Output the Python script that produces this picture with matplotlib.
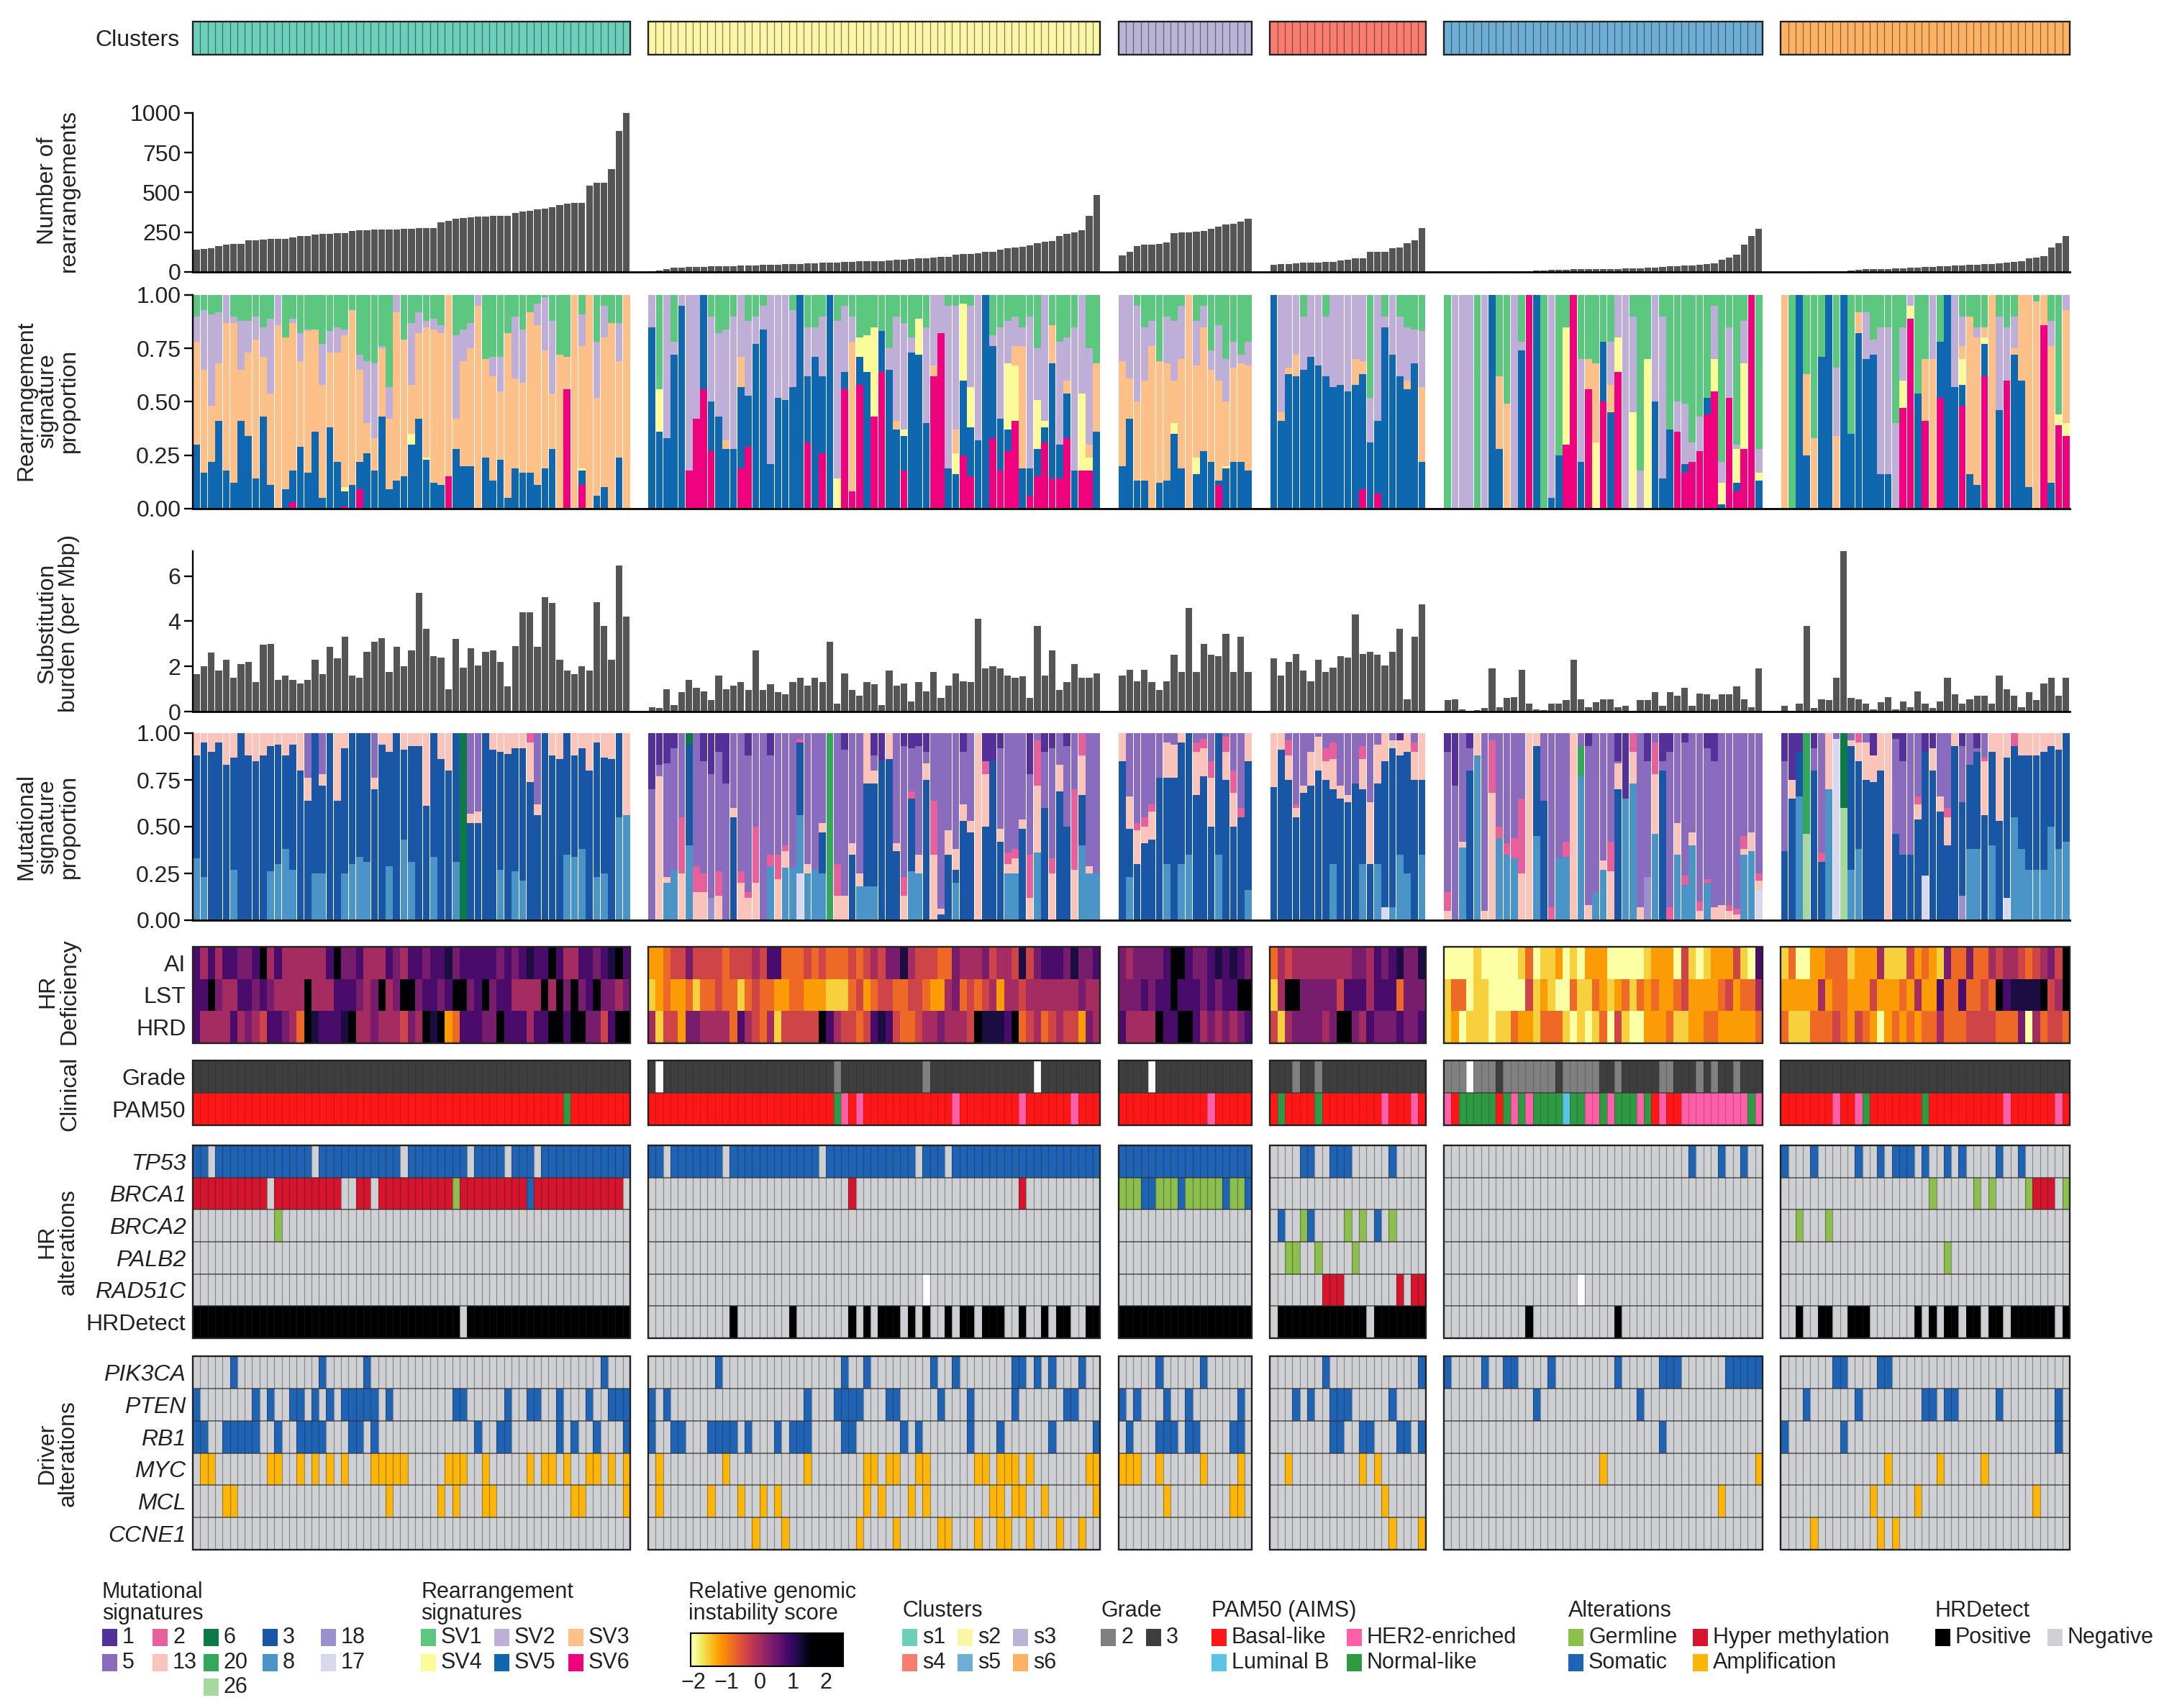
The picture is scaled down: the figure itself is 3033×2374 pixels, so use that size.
import numpy as np
import matplotlib
matplotlib.use('Agg')
import matplotlib.pyplot as plt
from matplotlib.colors import ListedColormap, Normalize
from matplotlib.patches import Rectangle

plt.rcParams['font.family'] = ['Liberation Sans', 'DejaVu Sans']
W, H = 3033, 2374
FS = 23

cluster_names = ['s1', 's2', 's3', 's4', 's5', 's6']
cluster_sizes = [59, 61, 18, 21, 43, 39]
cluster_colors = ['#6CCFBC', '#FBF6A6', '#B9B3D6', '#F97C6E', '#6DAED5', '#FDB263']

def fit(seq, n):
    seq = list(seq)
    return seq[:n] + [seq[-1]] * max(0, n - len(seq))

rearr_s1 = [140,143,150,165,170,175,178,198,200,203,207,208,210,215,225,228,235,238,240,243,243,258,262,263,265,267,268,268,270,272,274,275,278,310,322,335,340,345,350,350,352,352,355,370,380,385,395,400,405,420,430,435,435,545,560,560,648,885,1000]
rearr_s2 = [3,8,20,25,27,30,31,33,35,36,37,38,39,40,41,43,45,47,49,50,52,54,56,58,60,61,63,65,66,68,69,70,72,76,78,80,84,88,92,95,97,110,112,115,118,125,128,140,150,155,157,168,183,190,196,228,239,250,264,352,484]
rearr_s3 = [105,125,165,170,172,175,185,245,250,250,255,260,270,285,300,305,315,335]
rearr_s4 = [45,50,52,55,58,60,60,62,65,72,78,85,88,125,125,128,150,155,180,200,275]
rearr_s5 = [1,1,1,2,2,2,3,3,3,4,5,6,8,10,12,14,14,16,16,18,18,20,20,20,22,22,24,25,28,30,34,36,40,42,45,50,55,75,90,110,170,228,270]
rearr_s6 = [1,2,2,2,3,3,3,4,5,8,15,16,18,18,20,22,24,26,28,30,32,34,36,40,42,44,46,48,50,55,58,62,68,85,90,100,155,180,228]
rearrangements = [rearr_s1, rearr_s2, rearr_s3, rearr_s4, rearr_s5, rearr_s6]

subs_s1 = [1.65,2.0,2.6,1.8,2.3,1.5,2.1,2.2,1.3,2.95,3.0,1.4,1.6,1.4,1.25,1.4,2.3,1.65,2.85,2.35,3.3,1.6,1.5,2.65,3.1,3.25,1.75,2.85,2.0,2.7,5.25,3.65,2.45,2.4,1.0,3.2,1.95,2.8,2.05,2.65,2.7,2.2,1.1,2.9,4.4,4.4,2.85,5.05,4.8,2.3,1.8,1.65,2.0,1.8,4.85,3.8,2.3,6.45,4.2]
subs_s2 = [0.2,0.15,1.0,0.3,0.85,1.4,1.05,0.9,0.5,1.6,1.0,1.15,1.3,0.95,2.7,0.95,1.2,0.85,0.75,1.3,1.5,1.15,1.5,1.3,3.1,0.35,1.7,0.95,0.7,1.3,1.2,0.3,1.8,1.15,1.25,0.45,1.3,0.9,1.75,0.6,1.15,1.7,1.35,1.3,4.1,1.9,2.0,1.9,1.6,1.5,1.55,0.6,3.8,1.6,2.7,0.95,1.3,2.1,1.5,1.5,1.7]
subs_s3 = [1.6,1.85,1.35,1.85,1.3,0.95,1.35,2.5,1.75,4.6,1.75,3.0,2.5,2.45,3.45,1.75,3.3,1.75]
subs_s4 = [2.35,1.6,2.2,2.55,1.8,1.35,2.3,1.75,1.95,2.45,2.4,4.3,2.55,2.65,2.5,2.05,2.65,3.65,0.55,3.3,4.75]
subs_s5 = [0.5,0.55,0.1,0.02,0.05,0.15,1.9,0.2,0.6,0.65,1.85,0.35,0.1,0.05,0.35,0.35,0.5,2.3,0.55,0.2,0.4,0.55,0.55,0.2,0.25,0.02,0.5,0.5,0.85,0.25,0.85,0.7,1.05,0.25,0.8,0.75,0.55,0.75,0.75,1.1,0.55,0.2,1.9]
subs_s6 = [0.25,0.02,0.35,3.8,0.15,0.55,0.5,1.5,7.1,0.6,0.55,0.35,0.1,0.4,0.65,0.1,0.45,0.2,0.9,0.35,0.15,0.45,1.5,0.75,0.35,0.55,0.7,0.7,0.35,1.6,1.0,0.7,0.2,0.85,0.5,1.25,1.5,0.7,1.5]
substitutions = [subs_s1, subs_s2, subs_s3, subs_s4, subs_s5, subs_s6]

# cumulative tops (percent) : SV6, SV5, SV4, SV3, SV2 ; SV1 fills up to 100
sv_s1 = [(0,30,30,78,90),(0,17,17,65,93),(0,22,22,48,91),(0,41,41,68,92),(0,18,18,87,100),(0,12,12,87,90),(0,41,41,65,88),(0,34,34,73,88),(0,14,14,79,90),(0,43,43,71,85),(0,11,11,54,89),(0,0,0,86,100),(0,9,9,80,80),(3,18,18,87,89),(0,29,29,69,82),(0,17,17,83,84),(0,36,36,84,84),(0,5,5,58,77),(0,38,38,73,83),(0,22,22,73,85),(1,8,10,81,84),(0,11,11,93,93),(9,22,22,65,72),(0,26,26,40,69),(0,18,18,33,68),(0,43,43,75,76),(0,9,9,42,57),(0,13,13,92,100),(0,15,15,79,79),(0,30,35,58,87),(0,42,42,82,92),(0,23,24,85,88),(0,12,12,84,89),(0,11,11,82,86),(15,15,15,100,100),(0,28,28,42,81),(0,20,20,69,84),(0,20,20,75,87),(0,0,0,95,100),(0,24,24,70,70),(0,13,13,62,71),(0,23,23,55,71),(0,5,5,82,82),(0,19,19,61,90),(0,17,17,59,84),(0,17,17,92,92),(0,11,11,86,96),(0,19,19,74,99),(0,28,28,54,88),(0,0,0,72,72),(56,56,56,71,71),(0,0,0,100,100),(11,18,19,76,91),(0,0,0,100,100),(0,6,6,52,78),(0,10,10,80,95),(0,0,0,87,87),(0,24,24,69,87),(0,0,0,100,100)]
sv_s2 = [(0,85,85,85,100),(0,36,56,56,56),(0,33,33,33,100),(0,72,72,72,78),(0,95,95,95,100),(18,18,18,18,100),(42,42,42,42,100),(56,100,100,100,100),(27,50,50,50,90),(0,43,43,43,82),(0,28,28,32,84),(0,28,28,28,90),(19,57,57,71,100),(29,53,53,53,88),(0,77,77,77,90),(0,84,84,84,95),(0,21,21,21,100),(0,52,52,52,100),(0,51,51,51,100),(0,57,57,57,93),(0,100,100,100,100),(31,62,62,62,85),(0,71,71,71,85),(26,62,62,62,90),(0,100,100,100,100),(0,0,14,14,88),(56,64,64,64,95),(8,8,8,78,90),(58,71,80,80,80),(0,64,81,81,81),(43,43,85,85,85),(64,83,83,83,83),(0,65,65,65,75),(0,37,37,41,90),(18,34,37,37,87),(0,73,73,73,80),(0,72,89,89,89),(0,40,40,40,85),(62,62,62,67,100),(82,82,82,82,100),(0,19,19,19,95),(0,16,26,37,95),(25,60,96,96,96),(15,38,57,57,95),(0,32,32,32,100),(0,100,100,100,100),(33,76,76,76,81),(18,42,42,42,85),(27,37,68,68,88),(41,41,67,76,90),(0,19,19,76,85),(6,19,19,19,90),(15,28,51,51,75),(31,38,41,41,100),(14,68,68,86,86),(14,30,30,30,78),(33,54,54,60,80),(0,18,18,18,85),(18,18,54,54,100),(18,18,24,30,75),(0,36,36,68,68)]
sv_s3 = [(0,20,20,69,100),(0,42,42,61,100),(0,13,13,50,95),(0,13,13,60,85),(0,0,0,76,88),(0,12,12,69,69),(0,13,13,68,90),(0,35,40,60,88),(0,19,19,70,95),(0,0,0,100,100),(0,16,24,67,88),(0,27,27,85,95),(0,22,22,65,74),(11,13,13,60,86),(0,19,20,50,70),(0,22,22,66,78),(0,22,22,68,72),(0,18,18,67,78)]
sv_s4 = [(0,100,100,100,100),(0,41,41,45,100),(0,63,63,66,100),(0,62,62,72,100),(0,65,65,65,90),(0,71,71,71,100),(0,67,67,67,100),(0,62,62,62,90),(0,57,57,57,100),(0,58,58,58,100),(0,55,55,55,100),(0,58,58,70,100),(9,63,63,69,100),(0,31,31,31,52),(7,41,41,41,100),(0,85,85,85,90),(0,72,72,72,100),(0,62,62,62,90),(0,56,56,60,85),(0,68,68,68,84),(0,22,22,57,83)]
sv_s5 = [(0,0,0,0,0),(0,0,0,0,100),(0,0,0,0,100),(0,0,0,0,100),(0,0,0,0,0),(0,0,0,0,100),(0,100,100,100,100),(0,28,28,62,62),(0,0,0,49,49),(0,0,0,0,100),(0,74,74,74,78),(100,100,100,100,100),(0,100,100,100,100),(0,0,0,0,0),(0,5,5,5,100),(0,25,25,25,25),(30,30,85,85,85),(100,100,100,100,100),(0,22,22,22,70),(56,56,56,70,70),(0,0,31,68,68),(50,78,78,78,78),(0,45,45,58,78),(64,64,80,80,100),(0,0,0,0,100),(0,0,45,45,90),(0,0,0,0,18),(0,0,70,70,70),(0,50,50,50,100),(0,14,14,14,90),(0,37,37,37,37),(36,36,36,36,50),(17,21,21,21,49),(22,22,22,22,31),(27,27,27,27,43),(44,52,52,52,52),(55,55,70,70,95),(0,2,12,12,22),(52,52,52,52,85),(8,12,28,28,30),(28,28,68,68,88),(100,100,100,100,100),(0,13,17,17,28)]
sv_s6 = [(0,0,0,100,100),(0,0,0,0,0),(0,100,100,100,100),(0,25,25,63,63),(0,0,0,33,33),(0,71,71,71,71),(0,100,100,100,100),(0,0,0,34,66),(0,100,100,100,100),(0,35,35,35,35),(0,82,82,92,92),(0,70,70,70,92),(0,72,72,72,79),(0,16,16,16,85),(0,16,16,16,85),(0,0,0,0,40),(47,47,60,60,85),(89,89,95,95,100),(0,54,54,54,54),(41,41,41,70,70),(0,0,0,70,100),(52,78,78,78,78),(0,100,100,100,100),(0,57,57,57,100),(48,58,70,76,90),(0,16,16,90,90),(0,11,11,80,85),(62,77,80,85,85),(0,0,0,100,100),(0,46,46,46,90),(60,60,60,60,85),(0,72,72,75,90),(0,60,60,100,100),(0,10,10,100,100),(0,0,0,97,97),(86,86,86,100,100),(0,12,12,76,88),(39,39,44,44,44),(34,34,40,93,100)]
sv_clusters = [sv_s1, sv_s2, sv_s3, sv_s4, sv_s5, sv_s6]
sv_labels = ['SV6', 'SV5', 'SV4', 'SV3', 'SV2', 'SV1']
sv_colors = ['#F0027F', '#0F67B0', '#FBFB99', '#FDC088', '#BFAED8', '#5CC77F']

# cumulative tops (percent) : sig 8, 3, 13, 2, 5 ; sig 1 fills up to 100
mut8_s1 = [33,23,0,0,0,27,0,0,0,0,26,30,38,27,0,0,25,25,0,0,25,30,34,31,0,0,29,0,43,31,0,0,34,0,0,31,0,0,0,0,0,27,0,26,21,0,0,0,0,0,35,34,38,0,23,25,0,55,56]
mut3_s1 = [88,95,90,95,83,87,100,88,85,88,93,94,88,94,80,64,100,72,100,64,92,100,100,100,70,94,90,100,91,93,93,61,100,86,80,100,100,52,52,100,91,90,89,92,92,74,56,100,88,86,100,88,92,80,95,87,86,100,56]
mut13_s1_over = {15:(76,76,100),17:(78,78,100),24:(76,76,100),37:(57,57,100),38:(58,58,100),45:(95,100,100),46:(62,62,100)}
mut_s2 = [(0,0,0,0,70),(0,0,77,77,83),(20,20,23,23,84),(27,27,27,27,92),(0,0,25,55,100),(40,94,94,94,94),(0,0,15,29,100),(0,0,15,25,85),(0,0,0,0,78),(0,0,13,26,90),(0,0,0,0,73),(0,55,60,60,100),(0,0,20,26,100),(0,0,12,15,88),(0,0,20,50,100),(0,0,0,0,100),(29,29,29,35,88),(0,0,22,35,100),(28,28,37,40,100),(28,28,28,28,100),(56,95,95,97,100),(25,25,30,30,100),(27,27,27,27,100),(25,47,52,52,100),(0,0,0,0,100),(0,0,13,30,100),(0,0,13,13,91),(0,35,41,41,100),(18,18,25,25,100),(18,73,100,100,100),(18,73,80,80,88),(0,85,85,85,85),(0,86,100,100,100),(0,37,41,41,100),(0,0,13,23,93),(26,65,65,69,92),(25,25,35,35,93),(0,75,84,84,90),(0,0,35,64,100),(0,3,6,6,100),(0,35,48,48,100),(20,27,38,38,100),(0,53,62,62,90),(0,47,53,53,100),(0,0,100,100,100),(0,50,78,85,85),(0,85,85,85,85),(0,42,49,49,92),(25,25,30,36,100),(25,25,33,38,100),(0,49,54,54,100),(0,0,12,35,78),(36,36,72,96,100),(0,60,60,60,90),(0,0,25,33,92),(0,69,83,83,100),(0,50,50,50,93),(0,0,27,70,100),(40,67,88,100,100),(25,25,29,29,100),(25,25,25,25,100)]
mut_s3 = [(0,85,100,100,100),(23,49,66,66,100),(0,30,48,52,100),(0,41,50,55,100),(0,43,58,62,100),(0,76,76,76,100),(30,76,95,95,100),(0,76,94,94,100),(30,95,100,100,100),(35,100,100,100,100),(0,67,90,95,100),(0,77,92,97,100),(0,50,76,85,100),(35,100,100,100,100),(0,75,90,98,100),(0,50,68,80,100),(0,55,55,60,100),(16,85,100,100,100)]
mut_s4 = [(0,71,100,100,100),(0,91,100,100,100),(0,75,88,96,100),(0,55,60,62,100),(0,68,72,72,100),(0,72,90,90,100),(0,80,98,98,100),(0,75,85,92,100),(30,70,86,95,100),(0,65,72,72,100),(0,63,67,67,100),(0,73,73,73,100),(30,70,86,93,100),(0,30,63,63,100),(30,73,94,94,100),(0,85,100,100,100),(7,92,96,96,100),(35,88,96,96,96),(25,90,100,100,100),(0,75,90,95,100),(35,75,100,100,100)]
mut_s5 = [(0,0,5,15,90),(0,0,0,0,72),(39,39,42,42,100),(0,80,80,80,92),(88,88,100,100,100),(0,0,5,5,100),(0,0,68,96,100),(44,44,44,50,100),(35,35,35,41,100),(33,33,33,44,100),(0,0,25,65,100),(0,0,100,100,100),(45,93,100,100,100),(0,64,64,64,100),(0,0,0,7,100),(33,33,33,33,100),(34,34,34,42,100),(0,0,100,100,100),(77,77,77,77,100),(0,0,8,8,93),(15,15,15,15,100),(27,27,32,32,100),(0,0,26,42,100),(0,70,84,84,85),(65,65,65,65,65),(73,73,90,100,100),(0,0,7,7,100),(0,0,0,0,85),(46,46,78,95,100),(0,80,80,80,85),(0,0,0,7,90),(35,35,52,52,100),(19,19,19,24,95),(40,40,47,47,100),(0,0,5,10,100),(20,20,20,22,92),(0,0,7,7,85),(0,0,8,8,100),(0,0,5,8,100),(0,0,3,6,100),(35,35,38,45,100),(37,37,47,47,100),(0,0,21,25,100)]
mut_s6 = [(0,37,37,37,85),(0,65,75,75,75),(66,90,90,90,90),(0,0,0,0,0),(0,80,80,80,92),(0,31,31,36,100),(70,70,100,100,100),(0,0,0,0,100),(0,0,0,0,100),(27,93,96,96,100),(38,85,95,100,100),(0,75,95,95,100),(0,74,88,88,88),(0,80,100,100,100),(0,0,100,100,100),(0,46,46,46,97),(0,35,35,35,85),(0,35,35,35,100),(0,54,62,66,100),(0,90,90,90,90),(0,80,92,92,92),(0,58,66,66,100),(0,40,55,60,100),(0,93,100,100,100),(0,63,63,63,93),(38,83,83,83,100),(38,90,90,90,92),(0,56,85,87,100),(40,90,100,100,100),(0,53,100,100,100),(0,87,100,100,100),(55,93,93,100,100),(38,88,100,100,100),(27,88,100,100,100),(27,88,100,100,100),(27,90,100,100,100),(50,93,100,100,100),(38,91,100,100,100),(42,100,100,100,100)]
mut_labels = ['8', '3', '13', '2', '5', '1']
mut_colors = ['#4A94C8', '#1A56A6', '#FBC4BB', '#E7609C', '#8A6CBE', '#54309A']
# rarer signatures: cluster, sample, signature, from, to
mut_rare = [(0,36,'6',0,100),(1,5,'6',94,100),(1,8,'18',0,12),(1,20,'17',0,25),(1,24,'20',0,100),(3,15,'17',0,7),(4,18,'20',77,93),(4,27,'18',0,23),(4,42,'17',0,16),(5,3,'26',0,46),(5,3,'20',46,100),(5,7,'17',0,97),(5,8,'26',0,60),(5,8,'6',60,100),(5,19,'17',0,24),(5,24,'18',0,13),(5,30,'17',0,12)]
rare_colors = {'6':'#0B7A45','20':'#33A75B','26':'#A5D99E','18':'#9C8FCF','17':'#D8D8F0'}

AI_s1 = [7,5,7,5,7,7,6,6,7,9,5,7,5,5,5,5,5,5,7,9,6,6,7,5,5,5,7,6,5,7,7,6,7,7,8,6,7,7,7,7,7,6,7,6,7,8,7,7,9,7,5,5,7,7,6,7,8,9,7]
LST_s1 = [7,7,9,6,5,5,7,7,6,7,6,5,5,5,5,9,5,5,5,7,7,7,6,5,6,9,5,6,9,9,6,7,7,6,7,9,9,6,7,9,6,7,7,5,5,5,5,9,5,9,6,9,6,7,9,6,6,5,6]
HRD_s1 = [7,5,5,5,5,7,5,6,5,4,7,7,6,5,3,9,8,7,7,7,8,9,5,5,6,5,5,5,4,6,5,9,8,9,2,3,7,7,7,6,6,9,7,7,7,5,7,7,9,9,7,9,9,6,6,4,7,9,9]
AI_s2 = [2,2,3,4,4,6,4,4,4,4,3,4,4,4,5,4,7,7,3,3,3,4,3,4,3,3,3,4,3,4,5,4,6,6,8,5,4,4,4,3,3,6,5,5,5,6,4,5,5,4,8,4,6,7,7,7,6,8,6,6,7]
LST_s2 = [1,2,3,2,2,3,1,3,3,4,3,3,1,3,4,3,3,2,2,3,3,2,2,2,1,1,1,3,4,2,3,4,4,3,3,4,4,3,2,2,5,6,3,4,3,4,5,2,5,5,4,5,5,5,5,5,5,5,6,5,5]
HRD_s2 = [5,1,4,4,2,6,6,5,5,5,5,3,7,5,4,3,5,1,4,4,4,4,4,9,7,5,4,4,3,4,7,8,7,4,3,3,4,5,5,6,5,5,5,4,9,8,8,8,7,9,3,4,5,3,4,5,4,4,2,6,5]
AI_s3 = [6,5,6,6,6,6,7,9,9,7,6,6,7,8,7,8,7,6]
LST_s3 = [6,6,6,7,6,7,7,9,7,7,7,6,7,6,7,7,9,9]
HRD_s3 = [7,5,5,5,5,9,7,7,9,9,7,5,6,5,6,5,6,7]
AI_s4 = [3,5,4,5,5,5,5,5,5,5,5,6,6,5,7,6,7,8,6,6,8]
LST_s4 = [1,5,9,9,6,6,6,6,6,4,7,7,7,5,7,7,7,3,6,6,6]
HRD_s4 = [4,1,5,6,6,6,6,5,6,9,9,6,5,7,6,6,6,7,6,6,7]
AI_s5 = [0,0,0,0,1,0,0,0,0,0,1,3,0,1,1,2,0,1,0,2,2,2,0,0,0,0,0,1,2,2,2,0,4,1,0,1,2,2,2,4,1,0,7]
LST_s5 = [1,3,3,0,1,1,0,0,0,0,0,4,1,2,1,0,0,3,1,1,3,2,1,2,3,1,3,2,3,2,2,3,4,2,2,2,2,3,4,2,3,3,5]
HRD_s5 = [1,2,0,1,1,1,0,1,1,3,2,2,1,3,3,3,1,0,1,0,1,3,0,4,1,0,0,2,2,2,3,1,1,2,2,3,3,2,2,2,2,2,3]
AI_s6 = [1,3,0,0,2,2,3,3,3,1,2,2,2,5,1,1,1,4,2,3,2,1,6,3,3,6,3,3,5,4,5,5,4,3,4,5,6,4,9]
LST_s6 = [2,2,2,2,2,5,2,3,3,2,2,2,4,2,2,2,3,2,5,2,2,7,3,3,7,3,3,4,3,9,7,8,8,8,8,9,4,5,9]
HRD_s6 = [3,1,1,1,3,3,3,4,3,2,4,3,2,0,2,3,2,3,2,3,3,5,3,3,3,4,4,4,4,3,3,3,6,0,5,3,4,4,3]
hr_rows = [[AI_s1,AI_s2,AI_s3,AI_s4,AI_s5,AI_s6],[LST_s1,LST_s2,LST_s3,LST_s4,LST_s5,LST_s6],[HRD_s1,HRD_s2,HRD_s3,HRD_s4,HRD_s5,HRD_s6]]
hr_labels = ['AI', 'LST', 'HRD']

# clinical: sample indices that differ from the cluster's main class
grade2 = [[],[25,37],[],[3,6],[0,1,2,4,5,6,8,9,10,11,12,13,14,16,17,18,19,20,23,29,30,34,36,39],[]]
gradeNA = [[],[1,52],[4],[],[3],[]]
pam_normal = [[50],[25],[],[1,6],[2,3,4,5,6,8,10,12,13,14,15,17,18,21,23,24,25,27,41],[11,19]]
pam_her2 = [[],[26,28,41,50,57],[12],[15,19],[0,9,11,19,20,22,26,29,32,33,34,35,36,37,38,39,40,42],[7,10,30,37]]
pam_lumB = [[],[],[],[],[16],[]]

# alterations: sample indices per cluster
tp53_neg = [[2,16,28,37,42,46],[2,10,23,36,40],[]]
tp53_som = [None,None,None,[4,5,8,9,10,16],[33,37,40],[0,4,10,13,15,16,17,19,22,24,29,32]]
brca1_clean = [[10,20,21,24,58],[],[],[],[],[]]
brca1_germ = [[35],[],[0,1,2,5,6,7,9,10,11,12,13,15,16],[],[],[20,26,28,33,38]]
brca1_som = [[45],[],[3,4,8,14,17],[],[],[]]
brca1_meth = [None,[27,50],[],[],[],[34,35,36]]
brca2_germ = [[11],[],[],[4,10,12,16],[],[2,6]]
brca2_som = [[],[],[],[1,5,14],[],[]]
palb2_germ = [[],[],[],[2,3,6,11],[],[22]]
rad51c_meth = [[],[],[],[7,8,9,17,19,20],[],[]]
rad51c_na = [[],[37],[],[],[18],[]]
hrdetect_pos = [[i for i in range(59) if i != 36],[11,19,27,29,31,32,33,35,37,40,42,43,45,46,47,50,53,55,56,59,60],list(range(18)),[i for i in range(21) if i not in (0,13)],[11,23],[2,5,6,9,10,11,18,20,22,23,25,26,28,29,31,32,33,34,35,36,38]]
pik3ca = [[5,17,23,55],[9,26,29,38,41,49,50,52,54,58],[5,11],[7,20],[0,5,8,9,14,23,29,30,31,38,39,40,41,42],[7,8,13,14]]
pten = [[0,8,10,13,14,16,18,20,21,22,23,24,26,35,36,42,45,46,49,53,56,57,58],[0,2,21,25,26,27,28,32,33,39,43,49,56,57],[0,2,6,9,16],[3,5,8,9,10,16],[12,26],[3,10,19,20,22,23,29,37]]
rb1 = [[0,1,4,5,6,7,8,11,14,15,16,17,21,22,24,38,41,42,49,51,54,58],[0,3,4,8,9,10,11,13,17,19,20,21,26,27,34,36,43,47,54,60],[1,5,6,7,9,10,15,16],[8,9,12,13,17,18,20],[29],[0,8,37]]
myc = [[1,2,10,11,14,16,18,20,24,25,26,27,28,34,35,36,39,45,47,48,50,53,54,56,58],[1,10,21,29,30,32,33,36,37,44,45,47,48,49,51,59,60],[0,1,2,5,11,16],[2,12,14],[21,42],[14,21,27]]
mcl = [[4,5,26,33,35,39,40,51,52,58],[1,8,12,15,17,29,31,35,37,46,47,49,50,53,60],[6,15,16],[15],[37],[12,18,34]]
ccne1 = [[],[14,18,28,33,39,40,44,47,48,51,55,58],[],[16,20],[],[4,13,15]]

NONE, GERM, SOM, METH, AMP, NA, POS = range(7)
alt_cmap = ListedColormap(['#CFD0D3', '#8CBF4D', '#1F63B5', '#D7142E', '#FDB507', '#FFFFFF', '#000000'])
clin_cmap = ListedColormap(['#FFFFFF', '#808080', '#3E3E3E', '#FF1616', '#5BC3E6', '#FF5FA8', '#2E9A43'])

GAP = 2.45
starts = np.cumsum([0] + [n + GAP for n in cluster_sizes[:-1]])
TOTAL = sum(cluster_sizes) + GAP * 5
X0, X1 = 268, 2877
fig = plt.figure(figsize=(W / 100, H / 100), dpi=100)

def add_ax(top, bottom):
    ax = fig.add_axes([X0 / W, 1 - bottom / H, (X1 - X0) / W, (bottom - top) / H])
    ax.set_xlim(0, TOTAL)
    ax.set_xticks([])
    ax.patch.set_alpha(0)
    return ax

def bar_axis(top, bottom, ylim, ticks, labels):
    ax = add_ax(top, bottom)
    ax.set_ylim(0, ylim)
    for s in ('top', 'right'):
        ax.spines[s].set_visible(False)
    ax.spines['left'].set_linewidth(1.7)
    ax.spines['bottom'].set_linewidth(2.0)
    ax.set_yticks(ticks, labels, fontsize=FS, color='#222222')
    ax.tick_params(axis='y', length=9, width=1.7, pad=3)
    return ax

def frame(ax, x, n, rows):
    ax.add_patch(Rectangle((x, 0), n, rows, fill=False, ec='#222222', lw=1.7, zorder=6, clip_on=False))

def block(top, bottom, rows, labels, get_matrix, cmap, norm, grid=True, italic=(), vgrid_alpha=0.4):
    ax = add_ax(top, bottom)
    ax.set_ylim(rows, 0)
    for s in ax.spines.values():
        s.set_visible(False)
    ax.set_yticks(np.arange(rows) + 0.5, labels, fontsize=FS, color='#222222')
    for t, name in zip(ax.get_yticklabels(), labels):
        if name in italic:
            t.set_fontstyle('italic')
    ax.tick_params(axis='y', length=0, pad=7)
    for c, x in enumerate(starts):
        n = cluster_sizes[c]
        ax.pcolormesh(x + np.arange(n + 1), np.arange(rows + 1), get_matrix(c), cmap=cmap, norm=norm)
        if grid:
            ax.vlines(x + np.arange(1, n), 0, rows, color='#222222', lw=0.9, alpha=vgrid_alpha, zorder=4)
            ax.hlines(np.arange(1, rows), x, x + n, color='#333333', lw=1.2, alpha=0.75, zorder=5)
        frame(ax, x, n, rows)
    return ax

# clusters strip
ax = block(30, 76, 1, ['Clusters'], lambda c: np.full((1, cluster_sizes[c]), c), ListedColormap(cluster_colors), Normalize(-0.5, 5.5), vgrid_alpha=0.55)
ax.tick_params(axis='y', pad=13)

# rearrangement count
ax = bar_axis(157, 378, 1000, [0, 250, 500, 750, 1000], ['0', '250', '500', '750', '1000'])
for c, x in enumerate(starts):
    ax.bar(x + np.arange(cluster_sizes[c]) + 0.5, fit(rearrangements[c], cluster_sizes[c]), width=0.9, color='#555555')

# rearrangement proportions
ax = bar_axis(410, 707, 1, [0, .25, .5, .75, 1], ['0.00', '0.25', '0.50', '0.75', '1.00'])
for c, x in enumerate(starts):
    tops = np.maximum.accumulate(np.array(fit(sv_clusters[c], cluster_sizes[c]), float), axis=1) / 100
    tops = np.column_stack([np.zeros(len(tops)), tops, np.ones(len(tops))])
    xs = x + np.arange(cluster_sizes[c]) + 0.5
    for k in range(6):
        ax.bar(xs, tops[:, k + 1] - tops[:, k], bottom=tops[:, k], width=0.94, color=sv_colors[k])

# substitution burden
ax = bar_axis(766, 989, 7.1, [0, 2, 4, 6], ['0', '2', '4', '6'])
for c, x in enumerate(starts):
    ax.bar(x + np.arange(cluster_sizes[c]) + 0.5, fit(substitutions[c], cluster_sizes[c]), width=0.9, color='#555555')

# mutational signature proportions
mut_s1 = []
for i, (a, b) in enumerate(zip(mut8_s1, mut3_s1)):
    rest = mut13_s1_over.get(i, (100, 100, 100))
    mut_s1.append((a, b, rest[0], rest[1], rest[2]))
mut_clusters = [mut_s1, mut_s2, mut_s3, mut_s4, mut_s5, mut_s6]
ax = bar_axis(1019, 1279, 1, [0, .25, .5, .75, 1], ['0.00', '0.25', '0.50', '0.75', '1.00'])
for c, x in enumerate(starts):
    tops = np.maximum.accumulate(np.array(fit(mut_clusters[c], cluster_sizes[c]), float), axis=1) / 100
    tops = np.column_stack([np.zeros(len(tops)), tops, np.ones(len(tops))])
    xs = x + np.arange(cluster_sizes[c]) + 0.5
    for k in range(6):
        ax.bar(xs, tops[:, k + 1] - tops[:, k], bottom=tops[:, k], width=0.94, color=mut_colors[k])
for c, i, sig, lo, hi in mut_rare:
    ax.bar(starts[c] + i + 0.5, (hi - lo) / 100, bottom=lo / 100, width=0.94, color=rare_colors[sig])

# HR deficiency heat map
hr_norm = Normalize(0, 9)
block(1316, 1450, 3, hr_labels, lambda c: np.array([fit(hr_rows[r][c], cluster_sizes[c]) for r in range(3)]), 'inferno_r', hr_norm, grid=False)

# clinical block
def clinical(c):
    n = cluster_sizes[c]
    m = np.zeros((2, n), int)
    m[0] = 2
    m[0, grade2[c]] = 1
    m[0, gradeNA[c]] = 0
    m[1] = 3
    m[1, pam_normal[c]] = 6
    m[1, pam_her2[c]] = 5
    m[1, pam_lumB[c]] = 4
    return m
block(1474, 1564, 2, ['Grade', 'PAM50'], clinical, clin_cmap, Normalize(-0.5, 6.5), vgrid_alpha=0.25)

# HR alterations
def hr_alt(c):
    n = cluster_sizes[c]
    m = np.zeros((6, n), int)
    if c < 3:
        m[0] = SOM
        m[0, tp53_neg[c]] = NONE
    else:
        m[0, tp53_som[c]] = SOM
    if c == 0:
        m[1] = METH
        m[1, brca1_clean[c]] = NONE
    else:
        m[1, brca1_meth[c]] = METH
    m[1, brca1_germ[c]] = GERM
    m[1, brca1_som[c]] = SOM
    m[2, brca2_germ[c]] = GERM
    m[2, brca2_som[c]] = SOM
    m[3, palb2_germ[c]] = GERM
    m[4, rad51c_meth[c]] = METH
    m[4, rad51c_na[c]] = NA
    m[5, hrdetect_pos[c]] = POS
    return m
genes_hr = ['TP53', 'BRCA1', 'BRCA2', 'PALB2', 'RAD51C', 'HRDetect']
block(1592, 1860, 6, genes_hr, hr_alt, alt_cmap, Normalize(-0.5, 6.5), italic=genes_hr[:5])

# driver alterations
def driver(c):
    m = np.zeros((6, cluster_sizes[c]), int)
    for r, lst in enumerate([pik3ca, pten, rb1]):
        m[r, lst[c]] = SOM
    for r, lst in zip((3, 4, 5), [myc, mcl, ccne1]):
        m[r, lst[c]] = AMP
    return m
genes_drv = ['PIK3CA', 'PTEN', 'RB1', 'MYC', 'MCL', 'CCNE1']
block(1885, 2154, 6, genes_drv, driver, alt_cmap, Normalize(-0.5, 6.5), italic=genes_drv)

# overlay for side titles and legends
ov = fig.add_axes([0, 0, 1, 1], zorder=20)
ov.set_xlim(0, W)
ov.set_ylim(H, 0)
ov.axis('off')
side = [('Number of\nrearrangements', 81, 265), ('Rearrangement\nsignature\nproportion', 66, 557),
        ('Substitution\nburden (per Mbp)', 81, 866), ('Mutational\nsignature\nproportion', 66, 1149),
        ('HR\nDeficiency', 81, 1378), ('Clinical', 97, 1520), ('HR\nalterations', 80, 1726),
        ('Driver\nalterations', 80, 2020)]
for txt, x, y in side:
    ov.text(x, y, txt, rotation=90, ha='center', va='center', fontsize=FS, color='#222222', linespacing=1.0, multialignment='center')

LFS = 22
def swatch(x, y, color, label):
    ov.add_patch(Rectangle((x, y - 12), 21, 24, fc=color, ec='none'))
    ov.text(x + 28, y, label, ha='left', va='center', fontsize=LFS, color='#222222')

def title(x, y, txt):
    ov.text(x, y, txt, ha='left', va='center', fontsize=LFS, color='#222222', linespacing=1.0)

R1, R2, R3 = 2276, 2311, 2345
title(142, 2228, 'Mutational\nsignatures')
for x, y, col, lab in [(142,R1,'#54309A','1'),(212,R1,'#E7609C','2'),(283,R1,'#0B7A45','6'),(365,R1,'#1A56A6','3'),(446,R1,'#9C8FCF','18'),
                       (142,R2,'#8A6CBE','5'),(212,R2,'#FBC4BB','13'),(283,R2,'#33A75B','20'),(365,R2,'#4A94C8','8'),(446,R2,'#D8D8F0','17'),
                       (283,R3,'#A5D99E','26')]:
    swatch(x, y, col, lab)
title(585, 2228, 'Rearrangement\nsignatures')
for x, y, col, lab in [(585,R1,'#5CC77F','SV1'),(687,R1,'#BFAED8','SV2'),(790,R1,'#FDC088','SV3'),
                       (585,R2,'#FBFB99','SV4'),(687,R2,'#0F67B0','SV5'),(790,R2,'#F0027F','SV6')]:
    swatch(x, y, col, lab)
title(957, 2228, 'Relative genomic\ninstability score')
cb = fig.add_axes([960 / W, 1 - 2316 / H, 212 / W, 46 / H], zorder=21)
cb.imshow(np.linspace(-2.09, 2.52, 256)[None, :], cmap='inferno_r', vmin=-2, vmax=1.6, aspect='auto', extent=(-2.09, 2.52, 0, 1))
cb.set_yticks([])
cb.set_xticks([-2, -1, 0, 1, 2], ['\u22122', '\u22121', '0', '1', '2'], fontsize=LFS, color='#222222')
cb.tick_params(axis='x', length=0, pad=6)
for s in cb.spines.values():
    s.set_linewidth(1.5)
title(1254, 2239, 'Clusters')
for x, y, col, lab in [(1254,R1,cluster_colors[0],'s1'),(1331,R1,cluster_colors[1],'s2'),(1408,R1,cluster_colors[2],'s3'),
                       (1254,R2,cluster_colors[3],'s4'),(1331,R2,cluster_colors[4],'s5'),(1408,R2,cluster_colors[5],'s6')]:
    swatch(x, y, col, lab)
title(1530, 2239, 'Grade')
swatch(1530, R1, '#808080', '2')
swatch(1593, R1, '#3E3E3E', '3')
title(1684, 2239, 'PAM50 (AIMS)')
for x, y, col, lab in [(1684,R1,'#FF1616','Basal-like'),(1872,R1,'#FF5FA8','HER2-enriched'),
                       (1684,R2,'#5BC3E6','Luminal B'),(1872,R2,'#2E9A43','Normal-like')]:
    swatch(x, y, col, lab)
title(2180, 2239, 'Alterations')
for x, y, col, lab in [(2180,R1,'#8CBF4D','Germline'),(2353,R1,'#D7142E','Hyper methylation'),
                       (2180,R2,'#1F63B5','Somatic'),(2353,R2,'#FDB507','Amplification')]:
    swatch(x, y, col, lab)
title(2690, 2239, 'HRDetect')
swatch(2690, R1, '#000000', 'Positive')
swatch(2846, R1, '#CFD0D3', 'Negative')

fig.savefig('out.png', dpi=100, facecolor='white')
